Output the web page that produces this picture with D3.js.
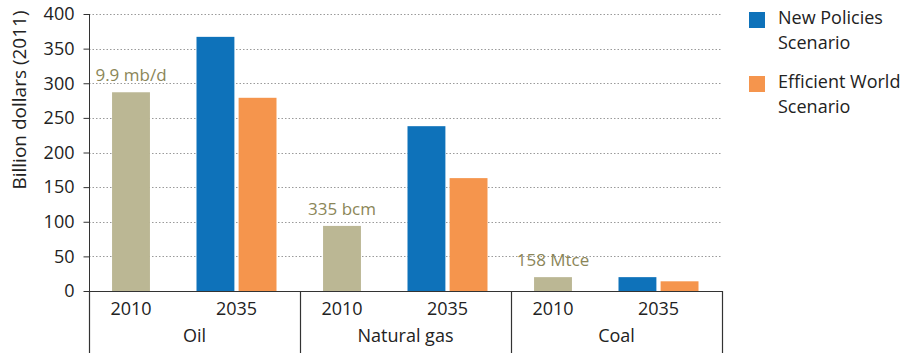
<!DOCTYPE html>
<html><head><meta charset="utf-8">
<script src="https://cdn.jsdelivr.net/npm/d3@7"></script>
<style>body{margin:0;background:#fff}svg text{font-family:"Open Sans",sans-serif}</style>
</head><body>
<svg id="c" width="910" height="353"></svg>
<script>
const fuels = ["Oil", "Natural gas", "Coal"];
const years = ["2010", "2035"];
const base2010 = [287, 94, 20];
const newPolicies2035 = [367, 238, 20];
const efficientWorld2035 = [279, 163, 14];
const annotations = ["9.9 mb/d", "335 bcm", "158 Mtce"];
const yTicks = [0, 50, 100, 150, 200, 250, 300, 350, 400];
const seriesNames = ["New Policies Scenario", "Efficient World Scenario"];

const colBase = "#BBB794", colNP = "#0E72BA", colEW = "#F5954D", colAnn = "#8B8658";
const svg = d3.select("#c");
const mLeft = 89, mRight = 722, mTop = 14, mBottom = 291;

const y = d3.scaleLinear().domain([0, 400]).range([mBottom, mTop]);
const slots = [];
fuels.forEach(f => years.forEach(yr => slots.push(f + "|" + yr)));
const x0 = d3.scaleBand().domain(slots).range([mLeft, mRight]).padding(0);
const xf = d3.scaleBand().domain(fuels).range([mLeft, mRight]).padding(0);
const inner = d3.scaleBand().domain(["np", "ew"]).range([2, 82]).paddingInner(0.1);
const bw = inner.bandwidth();

// gridlines
svg.append("g").selectAll("line").data(yTicks.filter(d => d > 0)).join("line")
  .attr("x1", mLeft).attr("x2", mRight).attr("y1", d => Math.round(y(d)) + 0.5).attr("y2", d => Math.round(y(d)) + 0.5)
  .attr("stroke", "#9a9a9a").attr("stroke-width", 1).attr("stroke-dasharray", "1.5,2");

// y axis
const ya = svg.append("g").attr("transform", `translate(${mLeft + 0.5},0)`)
  .call(d3.axisLeft(y).tickValues(yTicks).tickSize(6).tickPadding(9));
ya.select(".domain").attr("stroke", "#333").attr("d", `M0,${mTop}V${mBottom}`);
ya.selectAll(".tick line").attr("stroke", "#333");
ya.selectAll(".tick text").attr("font-size", 18).attr("fill", "#222").attr("font-family", "Open Sans");

svg.append("text").attr("transform", "translate(26,100) rotate(-90)").attr("text-anchor", "middle")
  .attr("font-size", 19).attr("fill", "#222").text("Billion dollars (2011)");

// bars
const bars = svg.append("g");
fuels.forEach((f, i) => {
  const s0 = x0(f + "|2010"), s1 = x0(f + "|2035");
  const cx = s0 + 42;
  bars.append("rect").attr("x", cx - bw / 2).attr("width", bw)
    .attr("y", y(base2010[i])).attr("height", y(0) - y(base2010[i])).attr("fill", colBase);
  bars.append("text").attr("x", cx).attr("y", y(base2010[i]) - 11).attr("text-anchor", "middle")
    .attr("font-size", 17).attr("fill", colAnn).text(annotations[i]);
  bars.append("rect").attr("x", s1 + inner("np")).attr("width", bw)
    .attr("y", y(newPolicies2035[i])).attr("height", y(0) - y(newPolicies2035[i])).attr("fill", colNP);
  bars.append("rect").attr("x", s1 + inner("ew")).attr("width", bw)
    .attr("y", y(efficientWorld2035[i])).attr("height", y(0) - y(efficientWorld2035[i])).attr("fill", colEW);
});

// x axis baseline
svg.append("line").attr("x1", mLeft).attr("x2", mRight).attr("y1", mBottom + 0.5).attr("y2", mBottom + 0.5)
  .attr("stroke", "#333").attr("stroke-width", 1.2);

// dividers
const divs = fuels.map(f => xf(f)).concat([mRight]);
svg.append("g").selectAll("line").data(divs).join("line")
  .attr("x1", d => Math.round(d) + 0.5).attr("x2", d => Math.round(d) + 0.5)
  .attr("y1", mBottom).attr("y2", 353).attr("stroke", "#333").attr("stroke-width", 1.2);

// year labels
svg.append("g").selectAll("text").data(slots).join("text")
  .attr("x", d => x0(d) + 42).attr("y", 315).attr("text-anchor", "middle")
  .attr("font-size", 18).attr("fill", "#222").text(d => d.split("|")[1]);

// fuel labels
svg.append("g").selectAll("text").data(fuels).join("text")
  .attr("x", d => xf(d) + xf.bandwidth() / 2).attr("y", 342).attr("text-anchor", "middle")
  .attr("font-size", 18).attr("fill", "#222").text(d => d);

// legend
const leg = svg.append("g");
[[colNP, ["New Policies", "Scenario"], 12], [colEW, ["Efficient World", "Scenario"], 76]].forEach(([c, lines, yy]) => {
  leg.append("rect").attr("x", 749).attr("y", yy).attr("width", 16).attr("height", 16).attr("fill", c);
  lines.forEach((l, k) => leg.append("text").attr("x", 778).attr("y", yy + 12 + k * 24.5)
    .attr("font-size", 18).attr("fill", "#222").text(l));
});
</script>
</body></html>
